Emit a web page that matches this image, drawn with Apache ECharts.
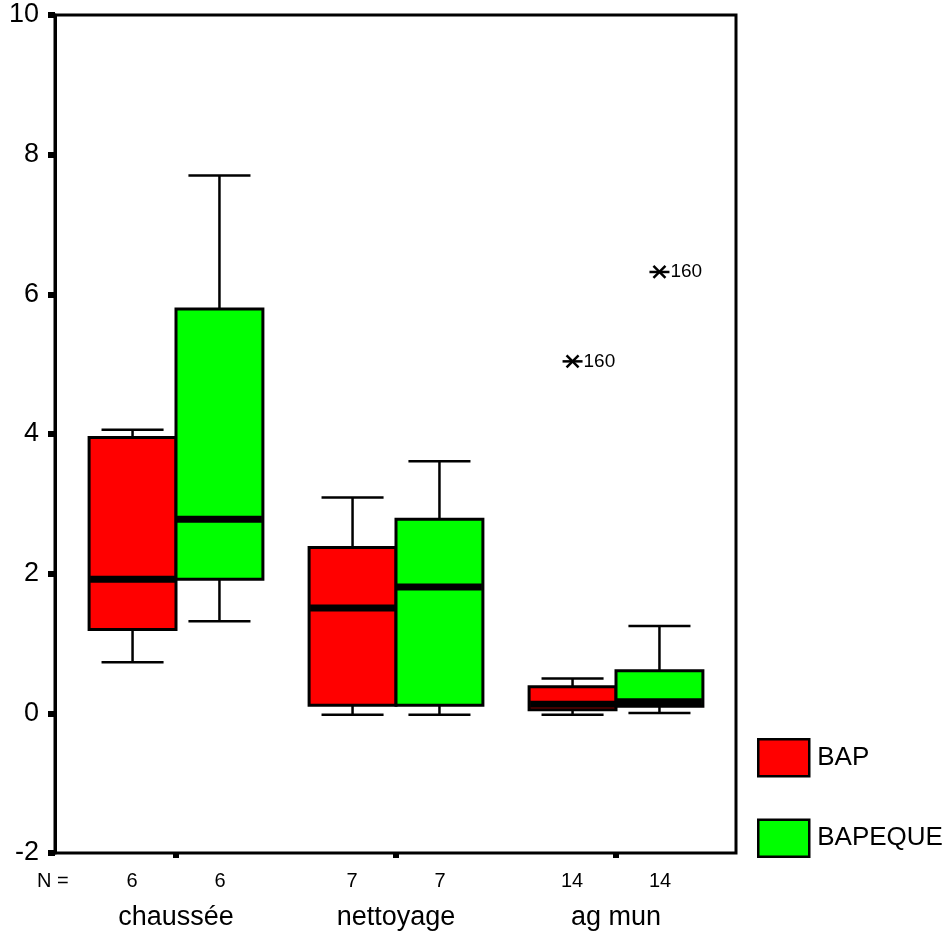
<!DOCTYPE html>
<html>
<head>
<meta charset="utf-8">
<script src="https://cdn.jsdelivr.net/npm/echarts@6/dist/echarts.min.js"></script>
<style>html,body{margin:0;padding:0;background:#fff;}#chart{width:946px;height:939px;}</style>
</head>
<body>
<div id="chart"></div>
<script>
// ---- data ----
const categories = ['chaussée', 'nettoyage', 'ag mun'];
const seriesNames = ['BAP', 'BAPEQUE'];
const yTicks = [-2, 0, 2, 4, 6, 8, 10];
const nBAP = [6, 7, 14];
const nBAPEQUE = [6, 7, 14];
// [low whisker, Q1, median, Q3, high whisker]
const statsBAP = [
  [0.73, 1.20, 1.92, 3.95, 4.06],
  [-0.02, 0.115, 1.51, 2.375, 3.09],
  [-0.02, 0.05, 0.13, 0.38, 0.50]
];
const statsBAPEQUE = [
  [1.32, 1.92, 2.78, 5.79, 7.70],
  [-0.02, 0.115, 1.81, 2.78, 3.61],
  [0.005, 0.10, 0.165, 0.61, 1.25]
];
// [category index, value, case label]
const outliersBAP = [[2, 5.04, '160']];
const outliersBAPEQUE = [[2, 6.32, '160']];

const FONT = 'Liberation Sans, Arial, sans-serif';
const BOX_FRAC = 0.395, CAP_FRAC = 0.282;
const outlierLabels = [outliersBAP.map(o => o[2]), outliersBAPEQUE.map(o => o[2])];

function boxRenderer(side, fill) {
  return function (params, api) {
    const ci = api.value(0);
    const low = api.coord([ci, api.value(1)]);
    const q1 = api.coord([ci, api.value(2)]);
    const med = api.coord([ci, api.value(3)]);
    const q3 = api.coord([ci, api.value(4)]);
    const high = api.coord([ci, api.value(5)]);
    const band = api.size([1, 0])[0];
    const bw = band * BOX_FRAC, cw = band * CAP_FRAC;
    const c0 = low[0];
    const left = side < 0 ? c0 - bw : c0;
    const cx = left + bw / 2;
    const ls = {stroke: '#000', lineWidth: 2.5};
    return {
      type: 'group',
      children: [
        {type: 'line', shape: {x1: cx, y1: high[1], x2: cx, y2: q3[1]}, style: ls},
        {type: 'line', shape: {x1: cx, y1: q1[1], x2: cx, y2: low[1]}, style: ls},
        {type: 'line', shape: {x1: cx - cw / 2, y1: high[1], x2: cx + cw / 2, y2: high[1]}, style: ls},
        {type: 'line', shape: {x1: cx - cw / 2, y1: low[1], x2: cx + cw / 2, y2: low[1]}, style: ls},
        {type: 'rect', shape: {x: left, y: q3[1], width: bw, height: q1[1] - q3[1]},
          style: {fill: fill, stroke: '#000', lineWidth: 3}},
        {type: 'line', shape: {x1: left + 1, y1: med[1], x2: left + bw - 1, y2: med[1]},
          style: {stroke: '#000', lineWidth: 7}}
      ]
    };
  };
}

function outlierRenderer(side) {
  return function (params, api) {
    const ci = api.value(0);
    const p = api.coord([ci, api.value(1)]);
    const band = api.size([1, 0])[0];
    const bw = band * BOX_FRAC;
    const cx = p[0] + side * bw / 2;
    const cy = p[1];
    const ls = {stroke: '#000', lineWidth: 2.5};
    return {
      type: 'group',
      children: [
        {type: 'line', shape: {x1: cx - 10, y1: cy, x2: cx + 10, y2: cy}, style: ls},
        {type: 'line', shape: {x1: cx - 6, y1: cy - 6, x2: cx + 6, y2: cy + 6}, style: ls},
        {type: 'line', shape: {x1: cx - 6, y1: cy + 6, x2: cx + 6, y2: cy - 6}, style: ls},
        {type: 'text', x: cx + 11, y: cy,
          style: {text: outlierLabels[side < 0 ? 0 : 1][params.dataIndex], fill: '#000',
            font: '19px ' + FONT, textAlign: 'left', textVerticalAlign: 'middle'}}
      ]
    };
  };
}

const toData = (stats) => stats.map((s, i) => [i].concat(s));

const chart = echarts.init(document.getElementById('chart'), null, {renderer: 'canvas'});
chart.setOption({
  backgroundColor: '#fff',
  animation: false,
  textStyle: {fontFamily: FONT},
  grid: [
    {left: 55, top: 15, width: 681, height: 838, show: true, borderColor: '#000', borderWidth: 3,
      backgroundColor: 'transparent'},
    {left: 66, top: 15, width: 660, height: 838}
  ],
  xAxis: [
    {type: 'value', gridIndex: 0, show: false, min: 0, max: 1},
    {type: 'category', gridIndex: 1, data: categories, boundaryGap: true, position: 'bottom',
      axisLine: {show: false, onZero: false},
      axisTick: {show: true, alignWithLabel: true, length: 5, lineStyle: {color: '#000', width: 6}},
      axisLabel: {
        margin: 17, color: '#000',
        formatter: function (val, idx) {
          return '{n|' + nBAP[idx] + '}{n|' + nBAPEQUE[idx] + '}\n{c|' + val + '}';
        },
        rich: {
          n: {width: 88, align: 'center', fontSize: 20, lineHeight: 22, fontFamily: FONT, color: '#000'},
          c: {align: 'center', fontSize: 27, lineHeight: 52, fontFamily: FONT, color: '#000'}
        }
      },
      splitLine: {show: false}}
  ],
  yAxis: [
    {type: 'value', gridIndex: 0, min: yTicks[0], max: yTicks[yTicks.length - 1], interval: 2,
      axisLine: {show: true, onZero: false, lineStyle: {color: '#000', width: 3}},
      axisTick: {show: true, length: 7, lineStyle: {color: '#000', width: 6}},
      axisLabel: {margin: 16, color: '#000', fontSize: 27, fontFamily: FONT},
      splitLine: {show: false}},
    {type: 'value', gridIndex: 1, min: yTicks[0], max: yTicks[yTicks.length - 1], interval: 2, show: false,
      splitLine: {show: false}}
  ],
  legend: {
    orient: 'vertical', left: 757, top: 738, padding: 0,
    itemWidth: 51, itemHeight: 37, itemGap: 41, icon: 'rect', selectedMode: false,
    textStyle: {fontSize: 26, color: '#000', fontFamily: FONT, padding: [0, 0, 0, 3]},
    data: [
      {name: seriesNames[0], itemStyle: {color: '#ff0000', borderColor: '#000', borderWidth: 2.5}},
      {name: seriesNames[1], itemStyle: {color: '#00ff00', borderColor: '#000', borderWidth: 2.5}}
    ]
  },
  graphic: [
    {type: 'text', left: 37, top: 871, style: {text: 'N =', font: '20px ' + FONT, fill: '#000'}}
  ],
  series: [
    {name: seriesNames[0], type: 'custom', xAxisIndex: 1, yAxisIndex: 1, itemStyle: {color: '#ff0000'},
      renderItem: boxRenderer(-1, '#ff0000'), encode: {x: 0, y: [1, 2, 3, 4, 5]}, data: toData(statsBAP)},
    {name: seriesNames[1], type: 'custom', xAxisIndex: 1, yAxisIndex: 1, itemStyle: {color: '#00ff00'},
      renderItem: boxRenderer(1, '#00ff00'), encode: {x: 0, y: [1, 2, 3, 4, 5]}, data: toData(statsBAPEQUE)},
    {name: 'outBAP', type: 'custom', xAxisIndex: 1, yAxisIndex: 1,
      renderItem: outlierRenderer(-1), encode: {x: 0, y: 1}, data: outliersBAP.map(o => [o[0], o[1]])},
    {name: 'outBAPEQUE', type: 'custom', xAxisIndex: 1, yAxisIndex: 1,
      renderItem: outlierRenderer(1), encode: {x: 0, y: 1}, data: outliersBAPEQUE.map(o => [o[0], o[1]])}
  ]
});
</script>
</body>
</html>
